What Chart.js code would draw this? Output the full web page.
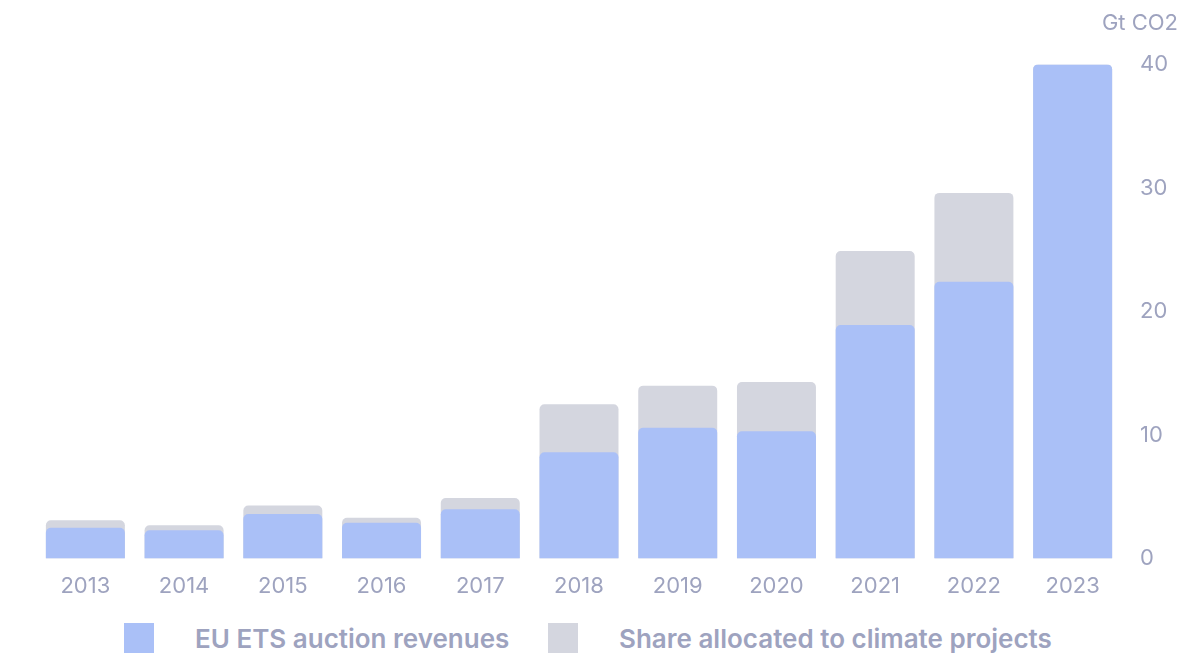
<!DOCTYPE html>
<html lang="en">
  <head>
    <meta charset="UTF-8" />
    <title>EU ETS auction revenues</title>
    <script src="https://cdn.jsdelivr.net/npm/chart.js"></script>
    <style>
      html, body { margin: 0; padding: 0; background: #fff; }
      #wrap { position: relative; width: 1202px; height: 664px; }
      #chart-box { position: absolute; left: 0; top: 0; width: 1202px; height: 607px; }
      #legend {
        position: absolute; left: 0; top: 620px; width: 1202px; height: 36px;
        font-family: Inter, "Noto Sans", sans-serif; font-size: 26px; font-weight: 600;
        color: #9ea3bf;
      }
      .item { position: absolute; top: 0; display: flex; align-items: center; height: 36px; }
      .box { width: 30px; height: 30px; margin-right: 41px; }
    </style>
  </head>
  <body>
    <div id="wrap">
      <div id="chart-box"><canvas id="etsChart"></canvas></div>
      <div id="legend">
        <div class="item" style="left:124px"><span class="box" id="box0"></span><span id="lab0"></span></div>
        <div class="item" style="left:548px"><span class="box" id="box1"></span><span id="lab1"></span></div>
      </div>
    </div>

  <script>
    const years = ["2013", "2014", "2015", "2016", "2017", "2018", "2019", "2020", "2021", "2022", "2023"];
    const revenues = [2.5, 2.3, 3.6, 2.9, 4.0, 8.6, 10.6, 10.3, 18.9, 22.4, 40.0];
    const climateShare = [3.1, 2.7, 4.3, 3.3, 4.9, 12.5, 14.0, 14.3, 24.9, 29.6, 40.0];
    const yTicks = [0, 10, 20, 30, 40];
    const seriesNames = ["EU ETS auction revenues", "Share allocated to climate projects"];
    const unitLabel = "Gt CO2";

    const blue = "#aac0f7";
    const grey = "#d4d6df";
    const textColor = "#9ea3bf";

    document.getElementById("box0").style.background = blue;
    document.getElementById("box1").style.background = grey;
    document.getElementById("lab0").textContent = seriesNames[0];
    document.getElementById("lab1").textContent = seriesNames[1];

    const ctx = document.getElementById("etsChart").getContext("2d");
    new Chart(ctx, {
      type: "bar",
      data: {
        labels: years,
        datasets: [
          {
            label: seriesNames[0],
            data: revenues,
            backgroundColor: blue,
            borderRadius: 5,
            borderSkipped: "bottom",
            order: 1,
          },
          {
            label: seriesNames[1],
            data: climateShare,
            backgroundColor: grey,
            borderRadius: 5,
            borderSkipped: "bottom",
            order: 2,
          },
        ],
      },
      options: {
        responsive: true,
        maintainAspectRatio: false,
        animation: false,
        layout: { padding: { left: 36, right: 24, top: 14, bottom: 0 } },
        datasets: { bar: { grouped: false, categoryPercentage: 1, barPercentage: 0.8 } },
        scales: {
          x: {
            grid: { display: false },
            border: { display: false },
            ticks: { color: textColor, font: { family: "Inter", size: 22 }, padding: 7 },
          },
          y: {
            position: "right",
            min: 0,
            max: 40,
            afterBuildTicks: (axis) => { axis.ticks = yTicks.map((v) => ({ value: v })); },
            afterFit: (axis) => { axis.width = 56; },
            grid: { display: false },
            border: { display: false },
            ticks: { color: textColor, font: { family: "Inter", size: 22 }, padding: 10 },
          },
        },
        plugins: {
          legend: { display: false },
          tooltip: { enabled: false },
          title: {
            display: true,
            text: unitLabel,
            align: "end",
            color: textColor,
            font: { family: "Inter", size: 22, weight: "normal" },
            padding: { top: -4, bottom: 28 },
          },
        },
      },
    });
  </script>
  </body>
</html>
